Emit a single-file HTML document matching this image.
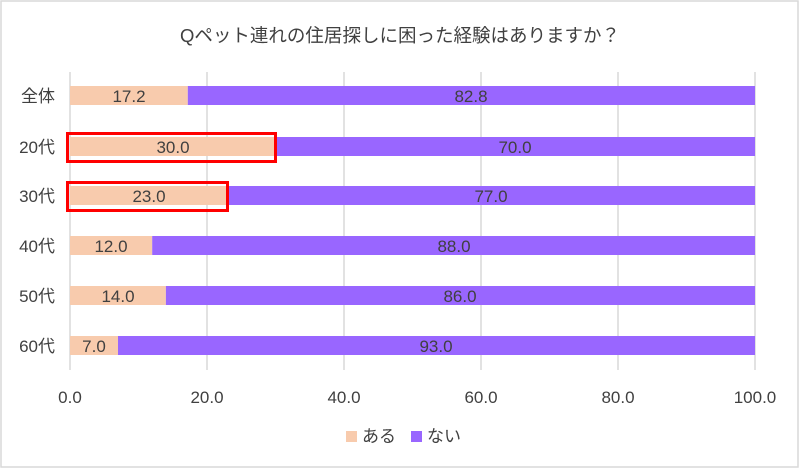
<!DOCTYPE html>
<html><head><meta charset="utf-8"><style>
body{margin:0;background:#fff}
svg text{font-family:"Liberation Sans","Noto Sans CJK JP",sans-serif;fill:#404040}
</style></head><body>
<svg width="800" height="470" viewBox="0 0 800 470" xmlns="http://www.w3.org/2000/svg">
<rect x="1" y="1" width="797" height="466" fill="#fff" stroke="#d9d9d9" stroke-width="1.5"/>
<text x="400" y="42" font-size="18.5" text-anchor="middle">Qペット連れの住居探しに困った経験はありますか？</text>
<g stroke="#d9d9d9" stroke-width="1.5">
<line x1="70" y1="72" x2="70" y2="370"/><line x1="207" y1="72" x2="207" y2="370"/>
<line x1="344" y1="72" x2="344" y2="370"/><line x1="481" y1="72" x2="481" y2="370"/>
<line x1="618" y1="72" x2="618" y2="370"/><line x1="755" y1="72" x2="755" y2="370"/>
</g>
<g font-size="17">
<text x="70" y="403" text-anchor="middle">0.0</text><text x="207" y="403" text-anchor="middle">20.0</text>
<text x="344" y="403" text-anchor="middle">40.0</text><text x="481" y="403" text-anchor="middle">60.0</text>
<text x="618" y="403" text-anchor="middle">80.0</text><text x="755" y="403" text-anchor="middle">100.0</text>
</g>
<g font-size="17">
<rect x="70" y="86" width="117.8" height="19" fill="#f8cbad"/><rect x="187.8" y="86" width="567.2" height="19" fill="#9966ff"/>
<text x="129" y="102" text-anchor="middle">17.2</text><text x="471" y="102" text-anchor="middle">82.8</text><text x="55" y="102" text-anchor="end">全体</text>
<rect x="70" y="137" width="205.5" height="19" fill="#f8cbad"/><rect x="275.5" y="137" width="479.5" height="19" fill="#9966ff"/>
<text x="173" y="153" text-anchor="middle">30.0</text><text x="515" y="153" text-anchor="middle">70.0</text><text x="55" y="153" text-anchor="end">20代</text>
<rect x="70" y="186" width="157.5" height="19" fill="#f8cbad"/><rect x="227.5" y="186" width="527.5" height="19" fill="#9966ff"/>
<text x="149" y="202" text-anchor="middle">23.0</text><text x="491" y="202" text-anchor="middle">77.0</text><text x="55" y="202" text-anchor="end">30代</text>
<rect x="70" y="236" width="82.2" height="19" fill="#f8cbad"/><rect x="152.2" y="236" width="602.8" height="19" fill="#9966ff"/>
<text x="111" y="252" text-anchor="middle">12.0</text><text x="454" y="252" text-anchor="middle">88.0</text><text x="55" y="252" text-anchor="end">40代</text>
<rect x="70" y="286" width="95.9" height="19" fill="#f8cbad"/><rect x="165.9" y="286" width="589.1" height="19" fill="#9966ff"/>
<text x="118" y="302" text-anchor="middle">14.0</text><text x="460" y="302" text-anchor="middle">86.0</text><text x="55" y="302" text-anchor="end">50代</text>
<rect x="70" y="336" width="48" height="19" fill="#f8cbad"/><rect x="118" y="336" width="637" height="19" fill="#9966ff"/>
<text x="94" y="352" text-anchor="middle">7.0</text><text x="436" y="352" text-anchor="middle">93.0</text><text x="55" y="352" text-anchor="end">60代</text>
</g>
<g fill="none" stroke="#ff0000" stroke-width="3">
<rect x="67.5" y="133.5" width="208" height="28"/>
<rect x="67.5" y="182.5" width="160" height="28"/>
</g>
<rect x="346" y="431" width="11" height="11" fill="#f8cbad"/>
<text x="362" y="442" font-size="17">ある</text>
<rect x="411" y="431" width="11" height="11" fill="#9966ff"/>
<text x="427" y="442" font-size="17">ない</text>
</svg>
</body></html>
